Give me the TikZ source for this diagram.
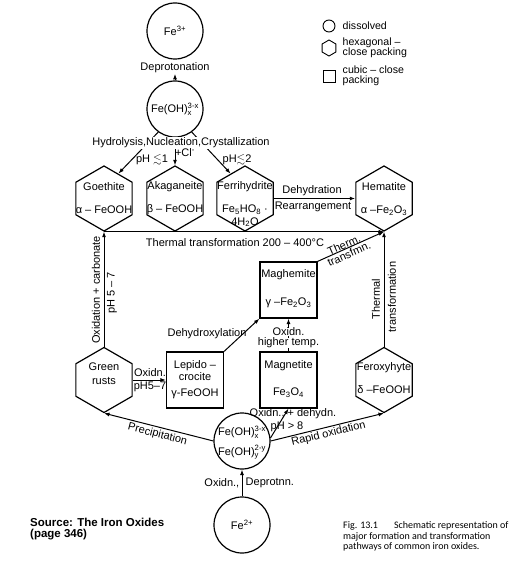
\documentclass[tikz,border=0pt]{standalone}
\usepackage{amsmath,amssymb}
\usepackage{fontspec}
\setmainfont{Liberation Sans}
\newfontfamily\capfont{Carlito}
\usetikzlibrary{shapes.geometric,arrows.meta,calc}
\newcommand{\lsb}[1]{$_{\text{#1}}$}
\newcommand{\lsp}[1]{$^{\text{#1}}$}
\newcommand{\lsbp}[2]{$_{\text{#1}}^{\text{#2}}$}
\begin{document}
\begin{tikzpicture}[x=1pt,y=-1pt,
  font=\fontsize{11}{13}\selectfont,
  circ/.style={circle,draw,line width=1.2pt,minimum size=56,inner sep=0pt},
  hexa/.style={regular polygon,regular polygon sides=6,shape border rotate=30,draw,line width=1.2pt,minimum size=65,inner sep=0pt},
  sqbox/.style={rectangle,draw,line width=1.2pt,minimum width=57,minimum height=56,inner sep=0pt},
  arr/.style={draw,line width=1pt,-{Latex[length=5.5pt,width=4pt]}},
  lbl/.style={inner sep=0.5pt,align=center},
  legtxt/.style={inner sep=0pt,anchor=west,align=left,font=\fontsize{10.6}{12.5}\selectfont},
  captxt/.style={inner sep=0pt,anchor=west,font=\capfont\fontsize{10}{12}\selectfont},
  srctxt/.style={inner sep=0pt,anchor=west,font=\bfseries\fontsize{11.5}{13}\selectfont}]
\fill[white] (0,0) rectangle (520,567);
\useasboundingbox (0,0) rectangle (520,567);

% legend
\node[circ,minimum size=12,line width=0.9pt] (lgc) at (329,26) {};
\node[hexa,minimum size=16,line width=0.9pt] (lgh) at (329,48) {};
\node[sqbox,minimum width=12,minimum height=12,line width=0.9pt] (lgs) at (329,76) {};
\node[legtxt] (lgct) at (342.5,25.5) {dissolved};
\node[legtxt] (lght) at (342.5,48) {hexagonal --\\[-2.5pt]close packing};
\node[legtxt] (lgst) at (342.5,76) {cubic -- close\\[-2.5pt]packing};

% top
\node[circ] (fe3) at (175,31) {Fe\lsp{3+}};
\node[lbl] (dep) at (175,68) {Deprotonation};
\node[circ] (feoh) at (175,109) {Fe(OH)\lsbp{x}{3-x}};
\draw[arr] (feoh.north) -- (dep.south);

% hexagon row
\node[hexa] (goe) at (104,198.5) {};
\node[hexa] (aka) at (175,198.5) {};
\node[hexa] (fer) at (245,198.5) {};
\node[hexa] (hem) at (384,198.5) {};
\node[lbl] (goe1) at (104,187) {Goethite};
\node[lbl] (goe2) at (104,210) {α -- FeOOH};
\node[lbl] (aka1) at (175,187) {Akaganeite};
\node[lbl] (aka2) at (175,210) {β -- FeOOH};
\node[lbl] (fer1) at (245,187) {Ferrihydrite};
\node[lbl] (fer2) at (245,210) {Fe\lsb{5}HO\lsb{8} ·};
\node[lbl] (fer3) at (245,222) {4H\lsb{2}O};
\node[lbl] (hem1) at (384,187) {Hematite};
\node[lbl] (hem2) at (384,211) {α --Fe\lsb{2}O\lsb{3}};

\draw[arr] (feoh.234) -- (goe.60);
\draw[arr] (feoh.south) -- (aka.90);
\draw[arr] (feoh.306) -- (fer.120);
\node[lbl,fill=white] (hyd) at (181,143) {Hydrolysis,Nucleation,Crystallization};
\node[lbl] (ph1) at (152,160) {pH $\lesssim$1};
\node[lbl] (cl) at (185,153) {+Cl\lsp{-}};
\node[lbl] (ph2) at (237,160) {pH$\lesssim$2};

\draw[arr] (fer.0) -- (hem.180);
\node[lbl] (dh1) at (312,191) {Dehydration};
\node[lbl] (dh2) at (313,207) {Rearrangement};

\draw[arr] (goe.270) -- (hem.270);
\node[lbl] (th) at (235,243) {Thermal transformation 200 -- 400°C};

% middle row
\node[hexa] (gr) at (104,380) {};
\node[lbl] (gr1) at (104,367) {Green};
\node[lbl] (gr2) at (104,381) {rusts};
\node[sqbox] (lep) at (195,380) {};
\node[lbl] (lep1) at (195,366) {Lepido --};
\node[lbl] (lep2) at (195,377) {crocite};
\node[lbl] (lep3) at (195,394) {γ-FeOOH};
\node[sqbox] (mgh) at (288.5,290) {};
\node[lbl] (mgh1) at (288.5,275) {Maghemite};
\node[lbl] (mgh2) at (288.5,303) {γ --Fe\lsb{2}O\lsb{3}};
\node[sqbox] (mgt) at (288.5,380) {};
\node[lbl] (mgt1) at (288.5,366) {Magnetite};
\node[lbl] (mgt2) at (288.5,393) {Fe\lsb{3}O\lsb{4}};
\node[hexa] (fx) at (384,380) {};
\node[lbl] (fx1) at (384,368) {Feroxyhyte};
\node[lbl] (fx2) at (384,390) {δ --FeOOH};

\draw[arr] (gr.90) -- (goe.270);
\node[lbl,rotate=90] (oxc) at (96,290) {Oxidation + carbonate};
\node[lbl,rotate=90] (ph57) at (112,293) {pH 5 -- 7};

\draw[arr] (gr.0) -- (lep.west);
\node[lbl] (ox1) at (150,373) {Oxidn.};
\node[lbl] (ox2) at (150,387) {pH5--7};

\draw[arr] (lep.north east) -- (mgh.south west);
\node[lbl] (dhx) at (207,334) {Dehydroxylation};

\draw[arr] (mgt.north) -- (mgh.south);
\node[lbl,fill=white,inner sep=0.2pt] (oxh1) at (288.5,332) {Oxidn.};
\node[lbl,fill=white,inner sep=0.2pt] (oxh2) at (288.5,343) {higher temp.};

\draw[arr] (mgh.north east) -- (hem.270);
\node[lbl,rotate=24] (tt1) at (344,245) {Therm.};
\node[lbl,rotate=24] (tt2) at (349,254) {transfmn.};

\draw[arr] (fx.90) -- (hem.270);
\node[lbl,rotate=90] (tf1) at (376,299) {Thermal};
\node[lbl,rotate=90] (tf2) at (392,297) {transformation};

% bottom
\node[circ] (low) at (242,441) {};
\node[lbl] (low1) at (242,432) {Fe(OH)\lsbp{x}{3-x}};
\node[lbl] (low2) at (242,452) {Fe(OH)\lsbp{y}{2-y}};
\draw[arr] (low.180) -- (gr.270);
\node[lbl,rotate=-14.3] (prec) at (157.5,434.5) {Precipitation};
\draw[arr] (low.0) -- (fx.270);
\node[lbl,rotate=13.8] (rox) at (328.5,434) {Rapid oxidation};
\draw[arr] (low.6) -- (mgt.south);
\node[lbl] (odh) at (293,414) {Oxidn., + dehydn.};
\node[lbl] (ph8) at (287,427) {pH > 8};

\node[circ] (fe2) at (242,525) {Fe\lsp{2+}};
\draw[arr] (fe2.north) -- (low.south);
\node[lbl,anchor=east] (odp1) at (240,483) {Oxidn.,};
\node[lbl,anchor=west] (odp2) at (245,483) {Deprotnn.};

% source and caption
\node[srctxt] (src1) at (30,522) {Source: The Iron Oxides};
\node[srctxt] (src2) at (30,535) {(page 346)};
\node[captxt] (cap1) at (343,526) {Fig. 13.1\hspace{1.6em}Schematic representation of};
\node[captxt] (cap2) at (343,537) {major formation and transformation};
\node[captxt] (cap3) at (343,547) {pathways of common iron oxides.};
\end{tikzpicture}
\end{document}
